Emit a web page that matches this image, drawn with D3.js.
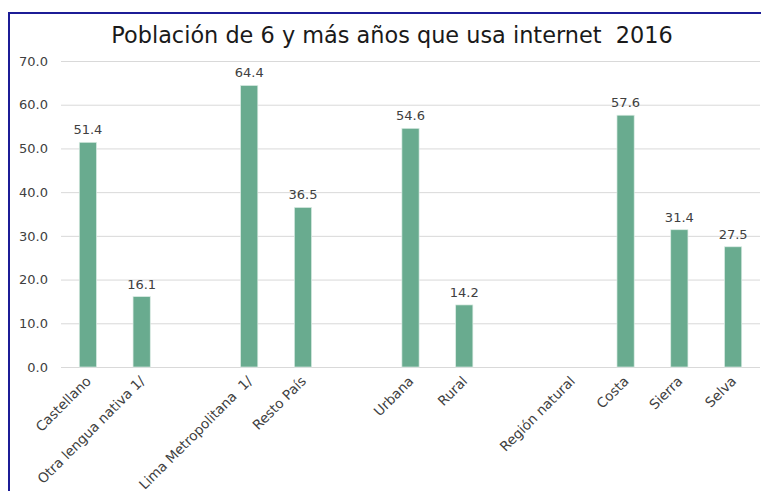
<!DOCTYPE html>
<html>
<head>
<meta charset="utf-8">
<script src="https://cdn.jsdelivr.net/npm/d3@7"></script>
<style>
  body { margin: 0; background: #fff; }
  text { font-family: "DejaVu Sans", sans-serif; white-space: pre; }
</style>
</head>
<body>
<svg class="bar-chart"></svg>
<script>
var categories = ["Castellano", "Otra lengua nativa 1/", "", "Lima Metropolitana  1/", "Resto País", "",
                  "Urbana", "Rural", "", "Región natural", "Costa", "Sierra", "Selva"];
var values = [51.4, 16.1, null, 64.4, 36.5, null, 54.6, 14.2, null, null, 57.6, 31.4, 27.5];
var yTicks = [0, 10, 20, 30, 40, 50, 60, 70];
var title = "Población de 6 y más años que usa internet  2016";

var svgWidth = 761, svgHeight = 491;
var margin = { top: 61, right: 1, bottom: 124, left: 61 };
var width = svgWidth - margin.left - margin.right;
var height = svgHeight - margin.top - margin.bottom;

var svg = d3.select("svg.bar-chart")
    .attr("width", svgWidth)
    .attr("height", svgHeight);

// frame
svg.append("path")
    .attr("d", "M9," + svgHeight + "V13H" + svgWidth)
    .attr("fill", "none")
    .attr("stroke", "#1c1c96")
    .attr("stroke-width", 2);

svg.append("text")
    .attr("x", 392)
    .attr("y", 43)
    .attr("text-anchor", "middle")
    .attr("font-size", 22.4)
    .attr("fill", "#1a1a1a")
    .text(title);

var g = svg.append("g")
    .attr("transform", "translate(" + margin.left + "," + margin.top + ")");

var x = d3.scaleBand()
    .domain(d3.range(categories.length))
    .range([0, width])
    .paddingInner(0.68)
    .paddingOuter(0.34);

var y = d3.scaleLinear()
    .domain([0, 70])
    .range([height, 0]);

var yAxis = g.append("g")
    .call(d3.axisLeft(y).tickValues(yTicks).tickSize(-width).tickPadding(13)
      .tickFormat(d3.format(".1f")));
yAxis.select(".domain").remove();
yAxis.selectAll(".tick line").attr("stroke", "#d9d9d9");
yAxis.selectAll(".tick text")
    .attr("font-size", 13)
    .attr("fill", "#404040")
    .style("font-family", "DejaVu Sans, sans-serif");

var xAxis = g.append("g")
    .attr("transform", "translate(0," + height + ")")
    .call(d3.axisBottom(x).tickSize(0).tickFormat(function(i) { return categories[i]; }));
xAxis.select(".domain").remove();
xAxis.selectAll(".tick text")
    .attr("font-size", 13.6)
    .attr("fill", "#404040")
    .style("font-family", "DejaVu Sans, sans-serif")
    .attr("text-anchor", "end")
    .attr("dy", null)
    .attr("y", 0)
    .attr("transform", "translate(4,15) rotate(-45)");

var data = values.map(function(v, i) { return { i: i, v: v }; })
    .filter(function(d) { return d.v !== null; });

g.selectAll(".bar")
    .data(data)
    .enter().append("rect")
    .attr("class", "bar")
    .attr("x", function(d) { return x(d.i); })
    .attr("width", x.bandwidth())
    .attr("y", function(d) { return y(d.v); })
    .attr("height", function(d) { return height - y(d.v); })
    .attr("fill", "#69ab8f")
    .attr("stroke", "#dbece4")
    .attr("stroke-width", 0.7);

g.selectAll(".label")
    .data(data)
    .enter().append("text")
    .attr("class", "label")
    .attr("x", function(d) { return x(d.i) + x.bandwidth() / 2; })
    .attr("y", function(d) { return y(d.v) - 8; })
    .attr("text-anchor", "middle")
    .attr("font-size", 13)
    .attr("fill", "#404040")
    .text(function(d) { return d.v.toFixed(1); });
</script>
</body>
</html>
